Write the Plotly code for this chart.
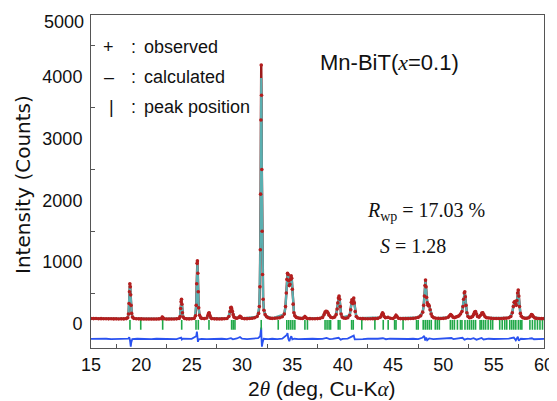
import plotly.graph_objects as go

# ---------------- data ----------------
# observed profile: (2theta, counts)
obs_points = [
    (15.00, 88), (15.25, 86), (15.50, 87), (15.75, 84), (16.00, 85), (16.25, 83), (16.50, 84),
    (16.75, 82), (17.00, 83), (17.25, 81), (17.50, 82), (17.75, 80), (18.00, 82), (18.25, 81),
    (18.50, 86), (18.65, 100), (18.72, 160), (18.78, 330), (18.82, 520), (18.86, 650), (18.90, 600),
    (18.94, 470), (18.98, 300), (19.04, 170), (19.12, 110), (19.25, 90), (19.50, 84), (19.75, 82),
    (20.00, 81), (20.25, 80), (20.50, 80), (20.75, 79), (21.00, 80), (21.25, 79), (21.50, 80),
    (21.75, 81), (22.00, 85), (22.08, 110), (22.15, 100), (22.25, 84), (22.50, 80), (22.75, 79),
    (23.00, 80), (23.25, 80), (23.50, 82), (23.75, 88), (23.85, 120), (23.91, 250), (23.95, 360),
    (23.99, 400), (24.03, 320), (24.08, 180), (24.15, 110), (24.30, 88), (24.50, 82), (24.75, 81),
    (25.00, 83), (25.25, 90), (25.38, 130), (25.45, 300), (25.50, 650), (25.54, 980), (25.57, 1020),
    (25.61, 820), (25.65, 520), (25.70, 260), (25.78, 140), (25.90, 100), (26.00, 90), (26.25, 86),
    (26.50, 95), (26.62, 140), (26.68, 170), (26.74, 180), (26.80, 140), (26.90, 100), (27.00, 86),
    (27.25, 82), (27.50, 81), (27.75, 80), (28.00, 81), (28.25, 83), (28.50, 88), (28.70, 120),
    (28.80, 200), (28.87, 260), (28.93, 270), (28.98, 240), (29.05, 200), (29.12, 150), (29.20, 110),
    (29.35, 95), (29.50, 92), (29.70, 105), (29.80, 125), (29.90, 110), (30.00, 92), (30.25, 85),
    (30.50, 85), (30.75, 88), (31.00, 92), (31.25, 100), (31.50, 120), (31.65, 170), (31.72, 280),
    (31.78, 600), (31.82, 1200), (31.85, 2100), (31.88, 3300), (31.91, 4190), (31.94, 3700),
    (31.97, 2500), (32.00, 1500), (32.04, 800), (32.10, 400), (32.18, 220), (32.30, 150), (32.45, 115),
    (32.60, 100), (32.80, 92), (33.00, 90), (33.25, 92), (33.50, 95), (33.75, 100), (34.00, 115),
    (34.20, 160), (34.32, 280), (34.40, 500), (34.46, 720), (34.52, 820), (34.58, 800), (34.64, 700),
    (34.70, 620), (34.76, 640), (34.82, 720), (34.88, 780), (34.94, 740), (35.00, 560), (35.08, 320),
    (35.16, 180), (35.25, 130), (35.40, 105), (35.60, 95), (35.80, 90), (36.00, 88), (36.15, 100),
    (36.25, 120), (36.35, 100), (36.50, 88), (36.75, 85), (37.00, 84), (37.25, 84), (37.50, 86),
    (37.75, 90), (38.00, 105), (38.15, 150), (38.25, 190), (38.35, 205), (38.45, 200), (38.55, 175),
    (38.65, 140), (38.80, 110), (39.00, 100), (39.20, 110), (39.35, 150), (39.45, 240), (39.52, 340),
    (39.58, 420), (39.64, 450), (39.70, 400), (39.76, 280), (39.84, 160), (39.95, 110), (40.10, 95),
    (40.30, 92), (40.50, 100), (40.70, 140), (40.80, 230), (40.86, 350), (40.92, 390), (40.98, 330),
    (41.04, 380), (41.10, 420), (41.16, 340), (41.24, 200), (41.35, 120), (41.50, 95), (41.75, 88),
    (42.00, 85), (42.25, 84), (42.50, 83), (42.75, 84), (43.00, 85), (43.25, 86), (43.50, 90),
    (43.75, 110), (43.88, 150), (43.96, 180), (44.04, 160), (44.12, 120), (44.25, 100), (44.50, 105),
    (44.75, 92), (45.00, 88), (45.20, 110), (45.30, 140), (45.40, 120), (45.55, 92), (45.75, 86),
    (46.00, 85), (46.25, 85), (46.50, 86), (46.75, 88), (47.00, 90), (47.25, 95), (47.50, 105),
    (47.75, 130), (47.95, 190), (48.05, 300), (48.12, 450), (48.18, 620), (48.23, 710), (48.28, 600),
    (48.34, 430), (48.40, 340), (48.47, 300), (48.54, 310), (48.60, 290), (48.68, 230), (48.78, 160),
    (48.90, 120), (49.05, 100), (49.25, 92), (49.50, 90), (49.75, 88), (50.00, 90), (50.25, 95),
    (50.50, 110), (50.62, 130), (50.72, 150), (50.82, 140), (50.95, 110), (51.10, 100), (51.25, 110),
    (51.40, 120), (51.55, 130), (51.70, 160), (51.85, 200), (51.95, 280), (52.02, 400), (52.08, 500),
    (52.13, 520), (52.18, 440), (52.25, 300), (52.34, 180), (52.45, 120), (52.60, 100), (52.75, 105),
    (52.90, 120), (53.00, 150), (53.10, 190), (53.20, 200), (53.30, 160), (53.40, 120), (53.55, 110),
    (53.70, 140), (53.82, 175), (53.92, 180), (54.02, 150), (54.15, 115), (54.30, 100), (54.50, 95),
    (54.75, 90), (55.00, 88), (55.25, 87), (55.50, 87), (55.75, 88), (56.00, 90), (56.25, 92),
    (56.50, 100), (56.70, 120), (56.85, 180), (56.95, 280), (57.03, 350), (57.10, 360), (57.17, 330),
    (57.24, 300), (57.31, 380), (57.38, 500), (57.44, 550), (57.50, 450), (57.57, 280), (57.65, 170),
    (57.75, 125), (57.90, 100), (58.10, 92), (58.30, 92), (58.50, 100), (58.65, 125), (58.75, 150),
    (58.85, 145), (58.95, 115), (59.10, 95), (59.25, 90), (59.50, 88), (59.75, 86), (60.00, 86),
]

# calculated profile: (2theta, counts)
calc_points = [
    (15, 86), (18.6, 88), (18.72, 150), (18.78, 320), (18.82, 500), (18.86, 620), (18.90, 590),
    (18.94, 460), (18.98, 300), (19.04, 170), (19.12, 110), (19.3, 88), (22.0, 82), (22.08, 108),
    (22.18, 82), (23.8, 88), (23.91, 240), (23.95, 350), (23.99, 390), (24.03, 320), (24.08, 180),
    (24.15, 110), (24.35, 86), (25.3, 95), (25.45, 300), (25.50, 640), (25.54, 930), (25.57, 960),
    (25.61, 800), (25.65, 520), (25.70, 260), (25.78, 140), (25.95, 95), (26.55, 100), (26.68, 165),
    (26.74, 175), (26.80, 140), (26.95, 90), (28.6, 95), (28.80, 190), (28.87, 255), (28.93, 265),
    (28.98, 240), (29.05, 200), (29.12, 150), (29.25, 105), (29.6, 95), (29.8, 118), (30.0, 90),
    (31.5, 115), (31.72, 280), (31.78, 600), (31.82, 1200), (31.85, 2050), (31.88, 3200),
    (31.91, 3980), (31.94, 3650), (31.97, 2500), (32.00, 1500), (32.04, 800), (32.10, 400),
    (32.18, 220), (32.35, 130), (33.0, 90), (34.2, 155), (34.32, 280), (34.40, 490), (34.46, 700),
    (34.52, 790), (34.58, 780), (34.64, 690), (34.70, 620), (34.76, 640), (34.82, 700), (34.88, 760),
    (34.94, 730), (35.00, 560), (35.08, 320), (35.16, 180), (35.3, 120), (35.8, 90), (36.25, 115),
    (36.4, 92), (37.8, 92), (38.15, 148), (38.25, 185), (38.35, 200), (38.45, 195), (38.55, 170),
    (38.7, 125), (39.0, 100), (39.35, 148), (39.45, 240), (39.52, 340), (39.58, 420), (39.64, 440),
    (39.70, 390), (39.76, 280), (39.84, 160), (40.0, 105), (40.7, 138), (40.80, 230), (40.86, 340),
    (40.92, 380), (40.98, 330), (41.04, 370), (41.10, 400), (41.16, 330), (41.24, 200), (41.35, 120),
    (41.6, 92), (43.75, 108), (43.88, 148), (43.96, 175), (44.04, 158), (44.15, 115), (44.5, 102),
    (45.0, 88), (45.3, 135), (45.5, 92), (47.5, 105), (47.95, 190), (48.05, 300), (48.12, 440),
    (48.18, 600), (48.23, 680), (48.28, 590), (48.34, 430), (48.40, 340), (48.47, 300), (48.54, 305),
    (48.60, 285), (48.68, 230), (48.78, 160), (48.9, 120), (49.3, 92), (50.5, 108), (50.72, 148),
    (50.82, 138), (51.0, 105), (51.55, 128), (51.85, 198), (51.95, 280), (52.02, 390), (52.08, 490),
    (52.13, 510), (52.18, 430), (52.25, 300), (52.34, 180), (52.5, 115), (52.9, 118), (53.10, 185),
    (53.20, 195), (53.30, 158), (53.5, 112), (53.82, 172), (53.92, 178), (54.05, 140), (54.3, 100),
    (56.5, 100), (56.85, 178), (56.95, 275), (57.03, 345), (57.10, 355), (57.17, 330), (57.24, 300),
    (57.31, 375), (57.38, 480), (57.44, 520), (57.50, 440), (57.57, 280), (57.65, 170), (57.8, 115),
    (58.3, 92), (58.75, 148), (58.85, 143), (59.0, 105), (60, 86),
]

# difference curve (obs - calc, plotted with offset): (2theta, counts)
diff_points = [
    (15, -243), (15.5, -238), (16, -244), (16.5, -240), (17, -245), (17.5, -239), (18, -242),
    (18.7, -240), (18.8, -215), (18.86, -250), (18.9, -330), (18.95, -370), (19.0, -300),
    (19.1, -245), (19.6, -240), (20, -244), (20.5, -239), (21, -245), (21.5, -240), (22, -240),
    (22.5, -246), (23, -241), (23.5, -245), (23.95, -222), (24.02, -252), (24.1, -240), (24.6, -245),
    (25, -241), (25.45, -200), (25.52, -125), (25.57, -200), (25.62, -290), (25.7, -250),
    (26, -242), (26.5, -246), (27, -240), (27.5, -244), (28, -240), (28.5, -245), (28.9, -230),
    (29.1, -250), (29.5, -236), (29.8, -212), (30.0, -240), (30.5, -245), (31, -238), (31.6, -230),
    (31.8, -200), (31.88, -100), (31.91, -60), (31.94, -250), (31.98, -367), (32.05, -300),
    (32.15, -240), (32.6, -246), (33, -240), (33.5, -245), (34, -238), (34.45, -180), (34.52, -150),
    (34.6, -240), (34.7, -280), (34.8, -230), (34.9, -200), (35.0, -250), (35.2, -240), (35.6, -246),
    (36, -241), (36.5, -245), (37, -240), (37.5, -244), (38, -243), (38.4, -228), (38.7, -245),
    (39, -241), (39.6, -225), (39.8, -255), (40, -242), (40.5, -238), (40.9, -205), (41.1, -190),
    (41.2, -250), (41.6, -242), (42, -246), (42.5, -240), (43, -244), (43.5, -240), (44, -232),
    (44.3, -248), (44.7, -240), (45, -242), (45.5, -246), (46, -240), (46.5, -244), (47, -240),
    (47.5, -245), (47.9, -225), (48.1, -195), (48.2, -270), (48.3, -220), (48.4, -265),
    (48.6, -235), (49, -245), (49.5, -240), (50, -243), (50.5, -238), (50.8, -228), (51, -246),
    (51.5, -240), (51.9, -225), (52.1, -255), (52.4, -238), (52.7, -246), (53, -230), (53.3, -255),
    (53.6, -240), (53.8, -228), (54, -252), (54.5, -240), (55, -244), (55.5, -240), (56, -245),
    (56.5, -238), (57, -220), (57.2, -265), (57.4, -208), (57.5, -272), (57.7, -240), (58, -244),
    (58.5, -238), (58.8, -232), (59, -248), (59.5, -241), (60, -243),
]

# Bragg peak positions (2theta)
peak_positions = [
    18.87, 19.94, 22.12, 24.01, 25.43, 25.66, 26.72, 28.97, 29.13, 29.30, 31.91, 33.60, 34.45,
    34.65, 34.85, 35.05, 35.25, 36.25, 36.50, 38.25, 38.45, 38.65, 38.80, 39.56, 39.73, 40.89,
    41.05, 41.90, 43.20, 44.03, 44.52, 45.16, 45.30, 46.00, 47.34, 47.50, 48.00, 48.20, 48.40,
    48.60, 48.80, 49.20, 49.40, 49.60, 50.70, 50.90, 51.10, 51.40, 51.70, 51.85, 52.15, 52.40,
    52.60, 52.80, 53.00, 53.20, 53.65, 53.80, 54.00, 54.20, 54.45, 54.70, 54.90, 55.60, 55.85,
    56.10, 56.30, 56.60, 56.80, 57.00, 57.20, 57.45, 57.65, 57.80, 58.60, 58.85, 59.10, 59.35,
    59.60, 59.85,
]
peak_marker_level = -15

x_ticks = [15, 20, 25, 30, 35, 40, 45, 50, 55, 60]
x_minor_ticks = [17.5, 22.5, 27.5, 32.5, 37.5, 42.5, 47.5, 52.5, 57.5]
y_ticks = [0, 1000, 2000, 3000, 4000]
y_top_label = "5000"          # top tick label, drawn just below the frame as in the reference
y_minor_ticks = [500, 1500, 2500, 3500, 4500]

tt_obs, i_obs = zip(*obs_points)
tt_calc, i_calc = zip(*calc_points)
tt_diff, i_diff = zip(*diff_points)

# ---------------- figure ----------------
# The page body has an 8 px default margin, so the figure is drawn 8 px
# right/down of the window corner; size and margins compensate for that.
OFF = 8
WIN_W, WIN_H = 557, 401
W, H = WIN_W - OFF, WIN_H - OFF
PL, PR, PT, PB = 91, 544, 15, 348          # wanted plot box in window pixels
ML, MR, MT, MB = PL - OFF, WIN_W - PR, PT - OFF, WIN_H - PB
PW, PH = PR - PL, PB - PT


def px(x):
    return (x - PL) / PW


def py(y):
    return (PB - y) / PH


SANS = "Liberation Sans, Arial, sans-serif"
SERIF = "Liberation Serif, Times New Roman, serif"

fig = go.Figure()
fig.add_trace(go.Scatter(x=tt_diff, y=i_diff, mode="lines",
                         line=dict(color="#2a52f0", width=1.8), showlegend=False))
fig.add_trace(go.Scatter(x=peak_positions, y=[peak_marker_level] * len(peak_positions),
                         mode="markers",
                         marker=dict(symbol="line-ns", size=7,
                                     line=dict(color="#20a848", width=1.6)),
                         showlegend=False))
fig.add_trace(go.Scatter(x=tt_obs, y=i_obs, mode="lines",
                         line=dict(color="#9c1b1b", width=2.4), showlegend=False))
fig.add_trace(go.Scatter(x=tt_calc, y=i_calc, mode="lines",
                         line=dict(color="#5aafb0", width=2.2), showlegend=False))
fig.add_trace(go.Scatter(x=tt_obs, y=i_obs, mode="markers",
                         marker=dict(symbol="circle", size=3.6, color="#b41e1e",
                                     line=dict(width=0)),
                         showlegend=False))

axis_common = dict(showline=True, mirror=True, linecolor="#555555", linewidth=1,
                   showgrid=False, zeroline=False, automargin=False,
                   ticklabeloverflow="allow",
                   tickfont=dict(family=SANS, size=18, color="#111111"))

fig.update_xaxes(range=[15, 60], tickmode="array", tickvals=x_ticks,
                 ticks="inside", ticklen=0,
                 minor=dict(tickmode="array", tickvals=x_minor_ticks, ticks="inside",
                            ticklen=4, tickcolor="#555555", tickwidth=1),
                 **axis_common)
fig.update_yaxes(range=[-390, 5000], tickmode="array", tickvals=y_ticks,
                 ticks="inside", ticklen=0, ticklabelstandoff=4,
                 minor=dict(tickmode="array", tickvals=y_minor_ticks, ticks="inside",
                            ticklen=4, tickcolor="#555555", tickwidth=1),
                 **axis_common)

ann = []


def text(x, y, s, size, family=SANS, xanchor="left", **kw):
    ann.append(dict(x=px(x), y=py(y), xref="paper", yref="paper", text=s, showarrow=False,
                    xanchor=xanchor, yanchor="middle",
                    font=dict(family=family, size=size, color="#111111"), **kw))


# top y tick label (sits just under the top frame line in the reference)
text(86, 22, y_top_label, 18, xanchor="right", xshift=0)

# legend-like key
text(108, 47, "+", 18, xanchor="center")
text(109, 77, "–", 18, xanchor="center")
text(111, 107, "|", 18, xanchor="center")
for yy in (47, 77, 107):
    text(133, yy, ":", 18, xanchor="center")
text(142, 47, "observed", 18)
text(142, 77, "calculated", 18)
text(142, 107, "peak position", 18)

# sample label
text(318, 63, f"Mn-BiT(<span style='font-family:{SERIF}'><i>x</i></span>=0.1)", 22)

# refinement figures of merit
text(365, 211, "<i>R</i><sub>wp</sub> = 17.03 %", 20, family=SERIF)
text(378, 246, "<i>S</i> = 1.28", 20, family=SERIF)

# axis titles
text(321, 389,
     f"2<span style='font-family:{SERIF}'><i>θ</i></span> (deg, Cu-K"
     f"<span style='font-family:{SERIF}'><i>α</i></span>)", 21, xanchor="center")
text(23, 185, "Intensity (Counts)", 20, family="DejaVu Sans, sans-serif",
     xanchor="center", textangle=-90)

fig.update_layout(width=W, height=H, margin=dict(l=ML, r=MR, t=MT, b=MB),
                  paper_bgcolor="white", plot_bgcolor="white", annotations=ann)

fig.write_html("out.html")
